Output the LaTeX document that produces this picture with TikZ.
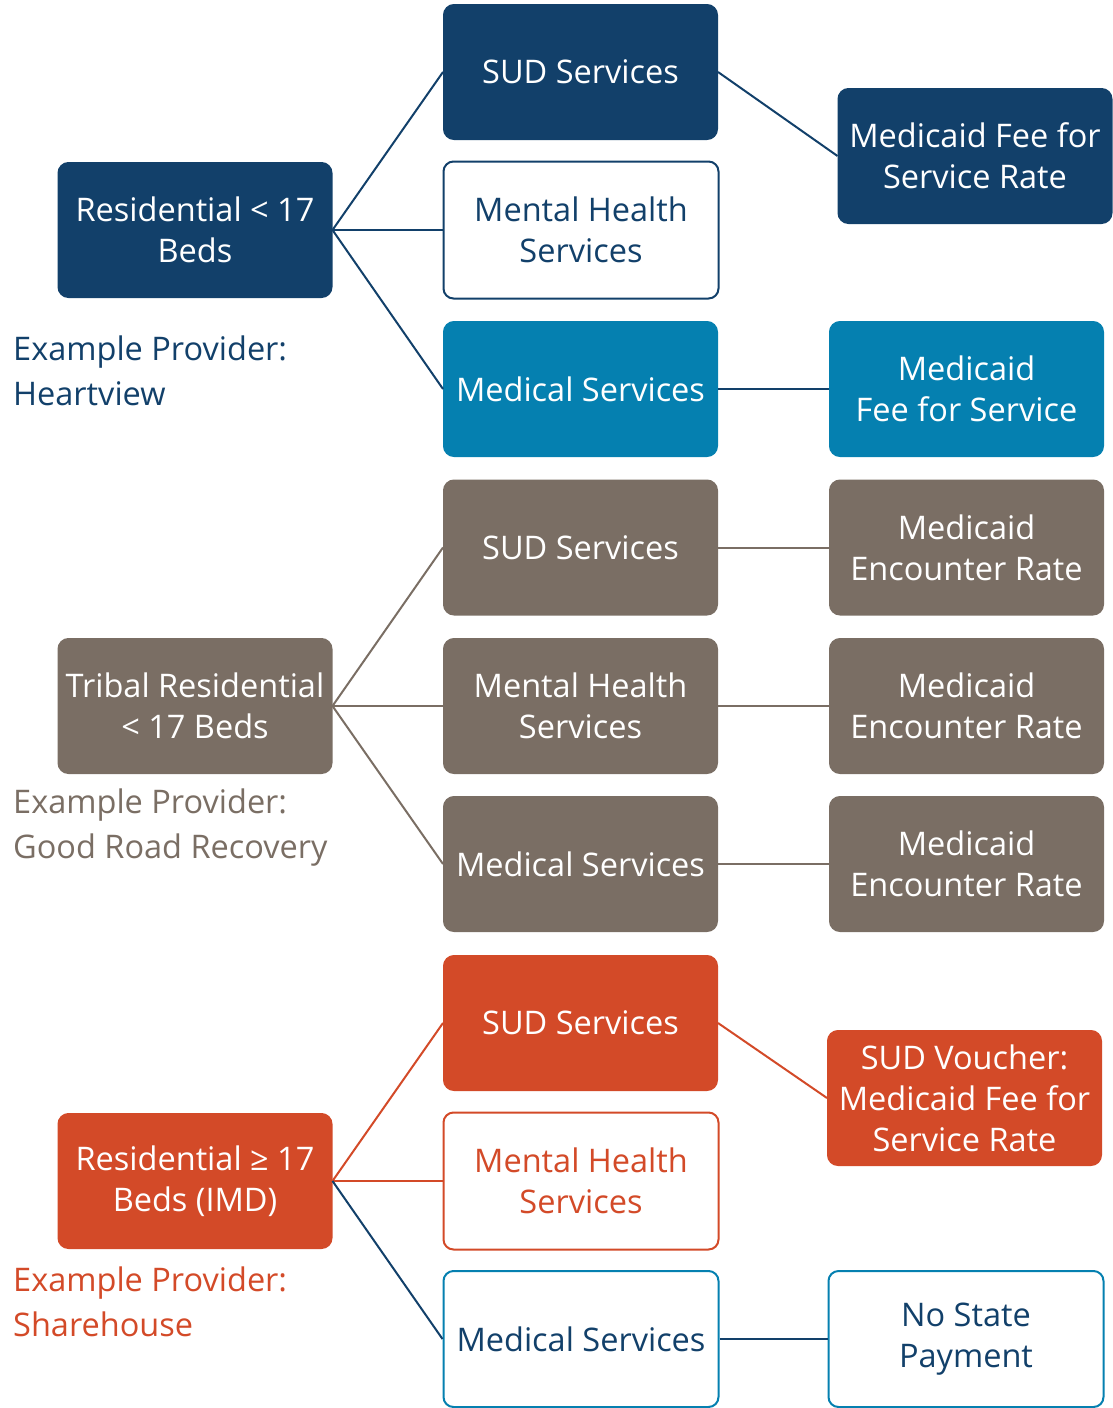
\documentclass[tikz,border=0pt]{standalone}
\usepackage{fontspec}
\setmainfont{Open Sans}
\definecolor{navy}{RGB}{18,64,106}
\definecolor{teal}{RGB}{5,128,176}
\definecolor{taupe}{RGB}{122,110,100}
\definecolor{rust}{RGB}{211,74,40}
\tikzset{
  box/.style={rectangle, rounded corners=10pt, minimum width=273pt, minimum height=134pt,
    inner sep=0pt, align=center, line width=2pt, font=\fontsize{32.5}{41}\selectfont},
  filled/.style={box, fill=#1, draw=#1, text=white},
  hollow/.style={box, fill=white, draw=#1},
  conn/.style={line width=2pt, draw=#1},
  example/.style={anchor=west, align=left, inner sep=0pt, font=\fontsize{32.5}{45}\selectfont, text=#1}
}
\begin{document}
\begin{tikzpicture}[x=1pt,y=-1pt]
\useasboundingbox (0,0) rectangle (1112,1408);
% Section 1
\node[filled=navy] (r1) at (195,230) {Residential < 17\\Beds};
\node[filled=navy] (sud1) at (580.5,72) {SUD Services};
\node[hollow=navy, text=navy, minimum width=275pt, minimum height=137pt] (mh1) at (581,230) {Mental Health\\Services};
\node[filled=teal] (med1) at (580.5,389) {Medical Services};
\node[filled=navy] (ffsr) at (975,156) {Medicaid Fee for\\Service Rate};
\node[filled=teal] (ffs) at (966.5,389) {Medicaid\\Fee for Service};
\node[example=navy] (ex1) at (13,371) {Example Provider:\\Heartview};
\draw[conn=navy] (r1.east) -- (sud1.west);
\draw[conn=navy] (r1.east) -- (mh1.west);
\draw[conn=navy] (r1.east) -- (med1.west);
\draw[conn=navy] (sud1.east) -- (ffsr.west);
\draw[conn=navy] (med1.east) -- (ffs.west);
% Section 2
\node[filled=taupe] (r2) at (195,706) {Tribal Residential\\< 17 Beds};
\node[filled=taupe] (sud2) at (580.5,547.5) {SUD Services};
\node[filled=taupe] (mh2) at (580.5,706) {Mental Health\\Services};
\node[filled=taupe] (med2) at (580.5,864) {Medical Services};
\node[filled=taupe] (enc1) at (966.5,547.5) {Medicaid\\Encounter Rate};
\node[filled=taupe] (enc2) at (966.5,706) {Medicaid\\Encounter Rate};
\node[filled=taupe] (enc3) at (966.5,864) {Medicaid\\Encounter Rate};
\node[example=taupe] (ex2) at (13,828) {Example Provider:\\Good Road Recovery};
\draw[conn=taupe] (r2.east) -- (sud2.west);
\draw[conn=taupe] (r2.east) -- (mh2.west);
\draw[conn=taupe] (r2.east) -- (med2.west);
\draw[conn=taupe] (sud2.east) -- (enc1.west);
\draw[conn=taupe] (mh2.east) -- (enc2.west);
\draw[conn=taupe] (med2.east) -- (enc3.west);
% Section 3
\node[filled=rust] (r3) at (195,1181) {Residential ≥ 17\\Beds (IMD)};
\node[filled=rust] (sud3) at (580.5,1023) {SUD Services};
\node[hollow=rust, text=rust, minimum width=275pt, minimum height=137pt] (mh3) at (581,1181) {Mental Health\\Services};
\node[hollow=teal, text=navy, minimum width=275pt, minimum height=136pt] (med3) at (581,1339) {Medical Services};
\node[filled=rust] (vou) at (964.5,1098) {SUD Voucher:\\Medicaid Fee for\\Service Rate};
\node[hollow=teal, text=navy, minimum width=275pt, minimum height=136pt] (nsp) at (966,1339) {No State\\Payment};
\node[example=rust] (ex3) at (13,1302) {Example Provider:\\Sharehouse};
\draw[conn=rust] (r3.east) -- (sud3.west);
\draw[conn=rust] (r3.east) -- (mh3.west);
\draw[conn=navy] (r3.east) -- (med3.west);
\draw[conn=rust] (sud3.east) -- (vou.west);
\draw[conn=navy] (med3.east) -- (nsp.west);
\end{tikzpicture}
\end{document}
